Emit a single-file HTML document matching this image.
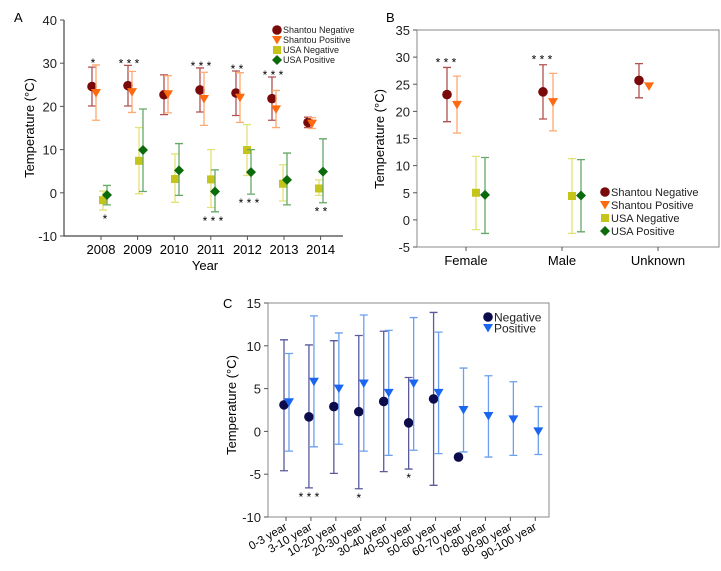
<!DOCTYPE html>
<html><head><meta charset="utf-8"><style>
body{margin:0;background:#fff;width:721px;height:566px;overflow:hidden}
svg{font-family:"Liberation Sans",sans-serif}
</style></head><body>
<svg id="s" width="721" height="566"></svg>
<script>
// ---- Panel A data ----
const yearsA=["2008","2009","2010","2011","2012","2013","2014"];
const stNegA=[24.6,24.8,22.7,23.8,23.1,21.8,16.3];
const stNegLoA=[20.1,20.1,18.1,18.7,17.9,16.8,15.1];
const stNegHiA=[29.1,29.5,27.3,28.9,28.2,26.8,17.5];
const stPosA=[23.1,23.3,22.8,21.7,22.0,19.3,16.0];
const stPosLoA=[16.8,18.6,18.5,15.6,16.3,15.1,14.9];
const stPosHiA=[29.6,28.1,27.1,27.9,27.8,23.7,17.4];
const usNegA=[-1.7,7.4,3.2,3.1,9.9,2.1,1.0];
const usNegLoA=[-4.0,-0.2,-2.2,-3.4,4.0,-1.9,-0.6];
const usNegHiA=[0.4,15.1,9.0,10.0,15.8,6.5,3.0];
const usPosA=[-0.5,9.9,5.2,0.3,4.8,3.0,4.9];
const usPosLoA=[-2.8,0.3,-0.6,-4.4,-0.3,-2.8,-2.3];
const usPosHiA=[1.7,19.4,11.4,5.3,10.0,9.2,12.5];
const ticksA=[40,30,20,10,0,-10];
const starsTopA=["*","***","","***","**","***",""];
const starsBotA=["*","","","***","***","","**"];
// ---- Panel B data ----
const catsB=["Female","Male","Unknown"];
const stNegB=[23.1,23.6,25.7], stNegLoB=[18.1,18.6,22.5], stNegHiB=[28.1,28.6,28.8];
const stPosB=[21.2,21.7,24.6], stPosLoB=[16.0,16.4,null], stPosHiB=[26.5,27.0,null];
const usNegB=[5.0,4.4,null], usNegLoB=[-1.8,-2.5,null], usNegHiB=[11.7,11.3,null];
const usPosB=[4.6,4.5,null], usPosLoB=[-2.5,-2.2,null], usPosHiB=[11.5,11.1,null];
const ticksB=[35,30,25,20,15,10,5,0,-5];
const starsB=["***","***",""];
// ---- Panel C data ----
const catsC=["0-3 year","3-10 year","10-20 year","20-30 year","30-40 year","40-50 year","50-60 year","60-70 year","70-80 year","80-90 year","90-100 year"];
const negC=[3.1,1.7,2.9,2.3,3.5,1.0,3.8,-3.0,null,null,null];
const negLoC=[-4.6,-6.6,-4.9,-6.7,-4.7,-4.4,-6.3,null,null,null,null];
const negHiC=[10.7,10.1,10.6,11.2,11.7,6.3,13.9,null,null,null,null];
const posC=[3.4,5.8,5.0,5.6,4.5,5.6,4.5,2.5,1.8,1.4,0.0];
const posLoC=[-2.3,-1.8,-1.5,-2.3,-2.8,-2.2,-2.6,-2.4,-3.0,-2.8,-2.7];
const posHiC=[9.1,13.5,11.5,13.6,11.8,13.3,11.6,7.4,6.5,5.8,2.9];
const ticksC=[15,10,5,0,-5,-10];
const starsC=["","***","","*","","*","","","","",""];

const S=document.getElementById('s');const NS="http://www.w3.org/2000/svg";
function mk(t,a,txt){const e=document.createElementNS(NS,t);for(const k in a)e.setAttribute(k,a[k]);if(txt!==undefined)e.textContent=txt;S.appendChild(e);return e;}
function lin(d0,d1,r0,r1){return v=>r0+(v-d0)*(r1-r0)/(d1-d0);}
function marker(shape,x,y,c,r){
  if(shape==='circle')return mk('circle',{cx:x,cy:y,r:r||4.8,fill:c});
  if(shape==='square')return mk('rect',{x:x-4,y:y-4,width:8,height:8,fill:c});
  if(shape==='tri')return mk('path',{d:`M${x-5},${y-4}L${x+5},${y-4}L${x},${y+4.5}Z`,fill:c});
  if(shape==='diamond')return mk('path',{d:`M${x},${y-5}L${x+5},${y}L${x},${y+5}L${x-5},${y}Z`,fill:c});
}
function series(name,vals,lo,hi,xf,yf,off,shape,c,ec){
  vals.forEach((v,i)=>{if(v===null)return;const x=xf(i)+off;
    if(lo[i]!==null){
      let e=mk('path',{d:`M${x},${yf(lo[i])}V${yf(hi[i])}M${x-4},${yf(lo[i])}H${x+4}M${x-4},${yf(hi[i])}H${x+4}`,stroke:ec,'stroke-width':1.3,fill:'none'});
      }
    let m=marker(shape,x,yf(v),c);
    
  });
}
function yaxis(ticks,yf,x0,x1,full,name){
  ticks.forEach(t=>{mk('line',{x1:x0-4,x2:x0,y1:yf(t),y2:yf(t),stroke:'#555'});
    let e=mk('text',{x:x0-7,y:yf(t)+5,'text-anchor':'end','font-size':13,fill:'#222'},t);
    });
}
function legend(items,x,y,dy,fs,name){
  items.forEach((it,i)=>{const yy=y+i*dy;marker(it[1],x,yy,it[2]);
    let e=mk('text',{x:x+6,y:yy+fs*0.36,'font-size':fs,fill:'#222'},it[0]);
    });
}
const cSN='#7a0a0a',eSN='#b05050',cSP='#ff6a10',eSP='#ffa870',cUN='#c4c41a',eUN='#e2e27a',cUP='#0b6b0b',eUP='#66a866';

// ---- Panel A ----
{const y=lin(40,-10,20,236);const xp=i=>99+36*i;const xl=i=>101+36.6*i;
 mk('path',{d:'M64,20V236H343',stroke:'#444',fill:'none','stroke-width':1.2});
 mk('text',{x:14,y:22,'font-size':13},'A');
 yaxis(ticksA,y,64,343,false,'a');
 yearsA.forEach((t,i)=>{mk('line',{x1:xl(i),x2:xl(i),y1:236,y2:240,stroke:'#555'});
   let e=mk('text',{x:xl(i),y:254,'text-anchor':'middle','font-size':13},t);});
 mk('text',{x:205,y:270,'text-anchor':'middle','font-size':13},'Year');
 mk('text',{x:34,y:128,'text-anchor':'middle','font-size':13,transform:'rotate(-90 34 128)'},'Temperature (°C)');
 series('a-shantou-negative',stNegA,stNegLoA,stNegHiA,xp,y,-7,'circle',cSN,eSN);
 series('a-shantou-positive',stPosA,stPosLoA,stPosHiA,xp,y,-3,'tri',cSP,eSP);
 series('a-usa-negative',usNegA,usNegLoA,usNegHiA,xp,y,4,'square',cUN,eUN);
 series('a-usa-positive',usPosA,usPosLoA,usPosHiA,xp,y,8,'diamond',cUP,eUP);
 starsTopA.forEach((s,i)=>{if(s)mk('text',{x:xp(i)-6,y:y(Math.max(stNegHiA[i],stPosHiA[i]))+2,'text-anchor':'middle','font-size':12},s.split('').join(' '));});
 starsBotA.forEach((s,i)=>{if(s)mk('text',{x:xp(i)+6,y:y(Math.min(usNegLoA[i],usPosLoA[i]))+13,'text-anchor':'middle','font-size':12},s.split('').join(' '));});
 legend([["Shantou Negative",'circle',cSN],["Shantou Positive",'tri',cSP],["USA Negative",'square',cUN],["USA Positive",'diamond',cUP]],277,30,10,9,'a');
}
// ---- Panel B ----
{const y=lin(35,-5,30,247);const xp=i=>466+96*i;
 mk('rect',{x:417,y:30,width:302,height:217,fill:'none',stroke:'#888','stroke-width':1});
 mk('text',{x:386,y:22,'font-size':13},'B');
 yaxis(ticksB,y,417,719,true,'b');
 catsB.forEach((t,i)=>{mk('line',{x1:xp(i),x2:xp(i),y1:247,y2:251,stroke:'#555'});
   let e=mk('text',{x:xp(i),y:265,'text-anchor':'middle','font-size':13},t);});
 mk('text',{x:384,y:139,'text-anchor':'middle','font-size':13,transform:'rotate(-90 384 139)'},'Temperature (°C)');
 series('b-shantou-negative',stNegB,stNegLoB,stNegHiB,xp,y,-19,'circle',cSN,eSN);
 series('b-shantou-positive',stPosB,stPosLoB,stPosHiB,xp,y,-9,'tri',cSP,eSP);
 series('b-usa-negative',usNegB,usNegLoB,usNegHiB,xp,y,10,'square',cUN,eUN);
 series('b-usa-positive',usPosB,usPosLoB,usPosHiB,xp,y,19,'diamond',cUP,eUP);
 starsB.forEach((s,i)=>{if(s)mk('text',{x:xp(i)-20,y:y(stNegHiB[i])-1,'text-anchor':'middle','font-size':12},s.split('').join(' '));});
 legend([["Shantou Negative",'circle',cSN],["Shantou Positive",'tri',cSP],["USA Negative",'square',cUN],["USA Positive",'diamond',cUP]],605,192,13,11,'b');
}
// ---- Panel C ----
{const y=lin(15,-10,303,517);const xp=i=>286+24.93*i;
 mk('rect',{x:268,y:303,width:281,height:214,fill:'none',stroke:'#888','stroke-width':1});
 mk('text',{x:223,y:308,'font-size':13},'C');
 yaxis(ticksC,y,268,549,true,'c');
 catsC.forEach((t,i)=>{mk('line',{x1:xp(i),x2:xp(i),y1:517,y2:521,stroke:'#555'});
   let e=mk('text',{x:xp(i)+2,y:529,'text-anchor':'end','font-size':11.5,transform:`rotate(-30 ${xp(i)+2} 529)`},t);});
 mk('text',{x:236,y:405,'text-anchor':'middle','font-size':13,transform:'rotate(-90 236 405)'},'Temperature (°C)');
 series('c-negative',negC,negLoC,negHiC,xp,y,-2,'circle','#0c0c4c','#5a5a9c');
 series('c-positive',posC,posLoC,posHiC,xp,y,3,'tri','#1a66f0','#6aa0ee');
 starsC.forEach((s,i)=>{if(s)mk('text',{x:xp(i)-2,y:y(negLoC[i])+13,'text-anchor':'middle','font-size':12},s.split('').join(' '));});
 legend([["Negative",'circle','#0c0c4c'],["Positive",'tri','#1a66f0']],488,317,11,12,'c');
}
</script>
</body></html>
